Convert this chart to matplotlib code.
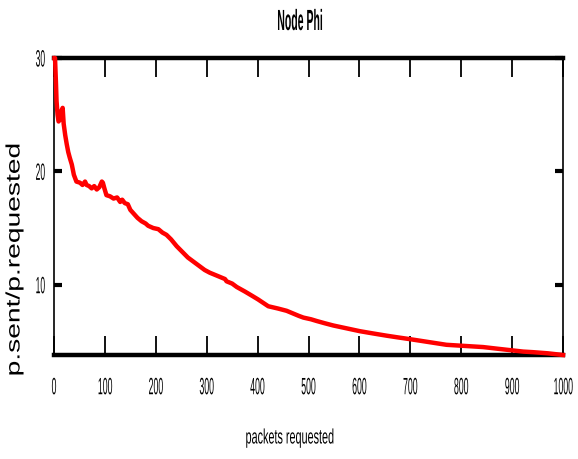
import numpy as np
import matplotlib.pyplot as plt
from matplotlib.patheffects import AbstractPathEffect
from matplotlib.transforms import Affine2D

# packets requested vs ratio of packets sent / packets requested for node Phi
packets = [1, 2, 4, 5, 7, 9, 12, 15, 17, 19, 22, 25, 28, 31, 35, 39, 44, 51, 56,
           61, 64, 69, 74, 79, 84, 89, 94, 96, 99, 103, 110, 117, 124, 130, 134,
           139, 145, 150, 156, 164, 172, 180, 185, 195, 205, 213, 221, 230, 241,
           252, 263, 275, 287, 296, 306, 320, 336, 339, 350, 359, 375, 390, 401,
           411, 421, 440, 457, 465, 473, 481, 490, 505, 516, 532, 549, 575, 601,
           627, 654, 676, 699, 735, 771, 807, 843, 872, 902, 922, 941, 970, 1000]
ratio = [30, 30, 27.6, 26.2, 25.0, 24.4, 24.6, 25.4, 25.6, 24.2, 23.2, 22.4, 21.7,
         21.2, 20.6, 19.7, 19.1, 19.0, 18.8, 19.1, 18.8, 18.7, 18.5, 18.7, 18.4,
         18.6, 19.1, 19.0, 18.5, 17.9, 17.8, 17.6, 17.7, 17.3, 17.5, 17.2, 17.1,
         16.6, 16.3, 15.9, 15.6, 15.4, 15.2, 15.0, 14.9, 14.6, 14.4, 14.0, 13.4,
         12.9, 12.4, 12.0, 11.6, 11.3, 11.06, 10.8, 10.5, 10.3, 10.1, 9.8, 9.4,
         9.0, 8.7, 8.4, 8.1, 7.9, 7.7, 7.55, 7.4, 7.25, 7.1, 6.95, 6.8, 6.6, 6.4,
         6.15, 5.9, 5.7, 5.5, 5.35, 5.2, 4.95, 4.7, 4.6, 4.5, 4.35, 4.2, 4.1,
         4.05, 3.95, 3.8]

xticks = np.arange(0, 1001, 100)
yticks = [10, 20, 30]


class Squeeze(AbstractPathEffect):
    """Scale glyphs along the text direction (condensed / stretched look)."""

    def __init__(self, sx, anchor='center'):
        super().__init__()
        self.sx = sx
        self.anchor = anchor

    def draw_path(self, renderer, gc, tpath, affine, rgbFace=None):
        ext = tpath.get_extents()
        if self.anchor == 'right':
            cx = ext.x1
        elif self.anchor == 'left':
            cx = ext.x0
        else:
            cx = (ext.x0 + ext.x1) / 2
        sq = Affine2D().translate(-cx, 0).scale(self.sx, 1).translate(cx, 0)
        renderer.draw_path(gc, tpath, sq + affine, rgbFace)


font = 'Liberation Sans'

fig = plt.figure(figsize=(5.78, 4.59), dpi=100)
ax = fig.add_axes([54/578, 1 - 355/459, (563-54)/578, (355-58)/459])

ax.plot(packets, ratio, color='red', lw=3.2, clip_on=False, zorder=5)

ax.set_xlim(0, 1000)
ax.set_ylim(3.8, 30)

ax.set_xticks(xticks)
ax.set_yticks(yticks)
ax.tick_params(axis='x', direction='in', length=14, width=1.3, top=True,
               pad=16, labelsize=17)
ax.tick_params(axis='y', direction='in', length=6, width=3, right=True,
               pad=6, labelsize=17)
for lbl in ax.get_xticklabels():
    lbl.set_family(font)
    lbl.set_path_effects([Squeeze(0.37)])
for lbl in ax.get_yticklabels():
    lbl.set_family(font)
    lbl.set_path_effects([Squeeze(0.36, anchor='right')])

ax.spines['top'].set_linewidth(3.2)
ax.spines['bottom'].set_linewidth(3.2)
ax.spines['left'].set_linewidth(1.2)
ax.spines['right'].set_linewidth(1.2)

fig.text(300/578, 1 - 22/459, 'Node Phi', ha='center', va='center',
         family=font, fontweight='bold', fontsize=21,
         path_effects=[Squeeze(0.36)])
fig.text(290/578, 1 - 438/459, 'packets requested', ha='center', va='center',
         family=font, fontsize=15, path_effects=[Squeeze(0.52)])
fig.text(15/578, 1 - 259/459, 'p.sent/p.requested', ha='center', va='center',
         rotation=90, family=font, fontsize=14, path_effects=[Squeeze(1.45)])

fig.savefig('out.png', dpi=100)
